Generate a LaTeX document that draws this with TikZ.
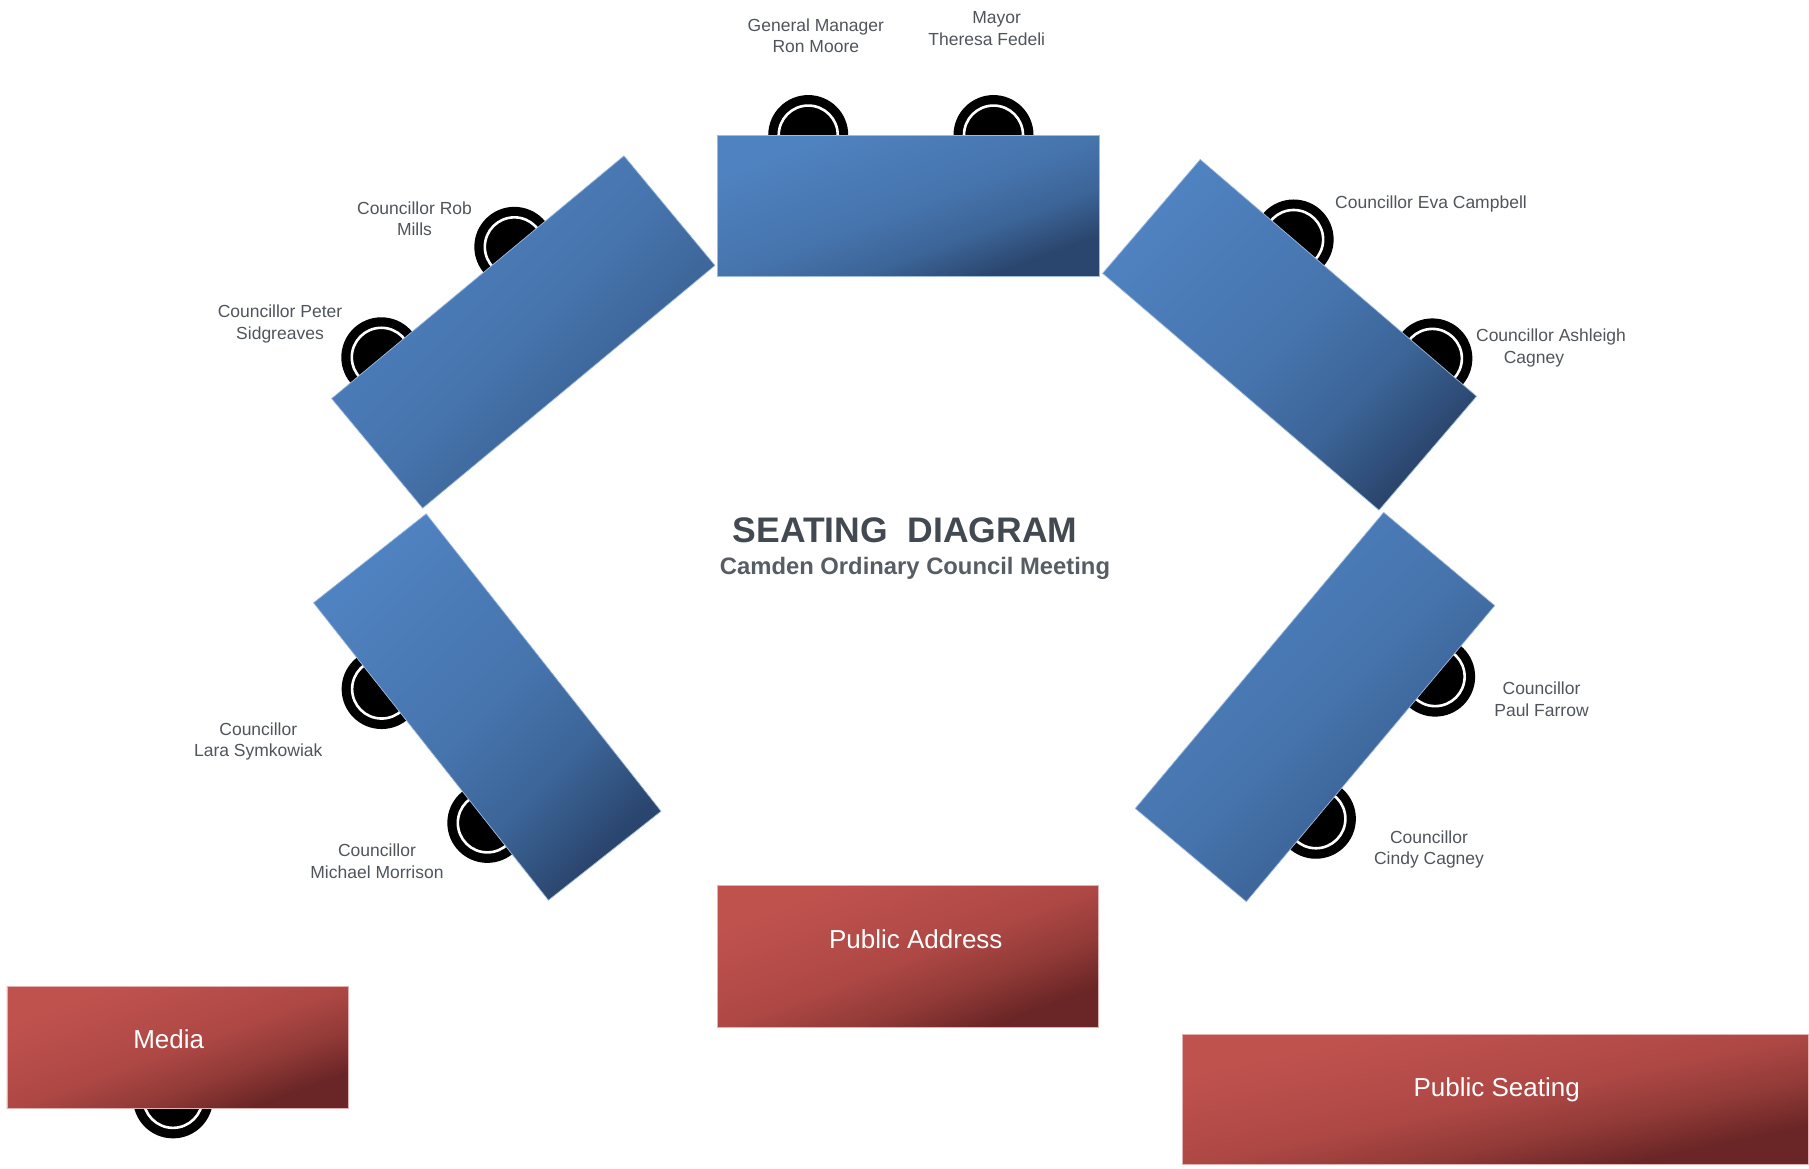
\documentclass[tikz,border=0pt]{standalone}
\usepackage{fontspec}
\setmainfont{Liberation Sans}
\usetikzlibrary{calc}

\definecolor{bluelight}{HTML}{4F82C0}
\definecolor{bluemid}{HTML}{4674AD}
\definecolor{bluedeep}{HTML}{3C6598}
\definecolor{bluedark}{HTML}{2B466E}
\definecolor{redlight}{HTML}{C0524E}
\definecolor{redmid}{HTML}{AE4845}
\definecolor{reddeep}{HTML}{913A37}
\definecolor{reddark}{HTML}{6A2626}
\definecolor{labelgray}{HTML}{50555C}
\definecolor{titlegray}{HTML}{434951}
\definecolor{subgray}{HTML}{575D65}

\pgfdeclareverticalshading{blueshade}{100bp}{color(0bp)=(bluedark); color(25bp)=(bluedark); color(37bp)=(bluedeep); color(50bp)=(bluemid); color(75bp)=(bluelight); color(100bp)=(bluelight)}
\pgfdeclareverticalshading{redshade}{100bp}{color(0bp)=(reddark); color(25bp)=(reddark); color(37bp)=(reddeep); color(50bp)=(redmid); color(75bp)=(redlight); color(100bp)=(redlight)}

\pgfdeclarelayer{bg}
\pgfdeclarelayer{chairs}
\pgfsetlayers{bg,chairs,main}

\newcommand{\seatchair}[1]{%
  \fill[black] (#1) circle (40pt);
  \draw[white, line width=2.6pt] (#1) circle (29.5pt);}

% gradient scaled to the box: light top-left corner, dark bottom-right corner
% #1,#2 centre; #3,#4 half width, half height; #5 shading
\newcommand{\scaledshade}[5]{%
  \begin{scope}[transform canvas={shift={(#1,#2)}, xscale=#3, yscale=#4}]
    \shade[shading=#5, shading angle=45] (-1pt,-1pt) rectangle (1pt,1pt);
  \end{scope}}

\begin{document}
\begin{tikzpicture}[x=1pt,y=-1pt,
  tablebox/.style={rectangle, inner sep=0pt, outer sep=0pt, shade, shading=blueshade, shading angle=45, draw=bluelight!55!white, line width=0.7pt},
  tableframe/.style={rectangle, inner sep=0pt, outer sep=0pt, draw=bluelight!55!white, line width=0.7pt},
  redframe/.style={rectangle, inner sep=0pt, outer sep=0pt, draw=redlight!45!white, line width=0.8pt},
  lbl/.style={font=\fontsize{17.5}{21.5}\selectfont, text=labelgray, align=center, inner sep=0pt},
  boxtext/.style={font=\fontsize{26}{30}\selectfont, text=white, inner sep=0pt}]

\begin{pgfonlayer}{bg}
\fill[white] (0,0) rectangle (1809,1168);
\end{pgfonlayer}
\useasboundingbox (0,0) rectangle (1809,1168);

% tables
\scaledshade{908.7}{205.8}{191}{70.75}{blueshade}
\node[tableframe, minimum width=382pt, minimum height=141.5pt] (tt) at (908.7,205.8) {};
\node[tablebox, minimum width=380pt, minimum height=142.5pt, rotate=39.7] (tul) at (523.3,332) {};
\node[tablebox, minimum width=364pt, minimum height=150pt, rotate=-40.6] (tur) at (1289.6,334.8) {};
\node[tablebox, minimum width=379pt, minimum height=143.6pt, rotate=-51.7] (tll) at (487.3,707) {};
\node[tablebox, minimum width=386.5pt, minimum height=145pt, rotate=50] (tlr) at (1315,707) {};

% red boxes
\scaledshade{177.5}{1047.2}{170.5}{61.15}{redshade}
\node[redframe, minimum width=341pt, minimum height=122.3pt] (media) at (177.5,1047.2) {};
\scaledshade{907.8}{956.7}{190.5}{71}{redshade}
\node[redframe, minimum width=381pt, minimum height=142pt] (pa) at (907.8,956.7) {};
\scaledshade{1495.5}{1099}{312.8}{65}{redshade}
\node[redframe, minimum width=625.6pt, minimum height=130pt] (ps) at (1495.5,1099) {};

% chair positions
\coordinate (cgm) at ($(tt.north west)!0.237!(tt.north east)$);
\coordinate (cmayor) at ($(tt.north west)!0.722!(tt.north east)$);
\coordinate (cpeter) at ($(tul.north west)!0.17!(tul.north east)$);
\coordinate (crob) at ($(tul.north west)!0.625!(tul.north east)$);
\coordinate (ceva) at ($(tur.north west)!0.338!(tur.north east)$);
\coordinate (cash) at ($(tur.north west)!0.84!(tur.north east)$);
\coordinate (clara) at ($(tll.south west)!0.29!(tll.south east)$);
\coordinate (cmich) at ($(tll.south west)!0.74!(tll.south east)$);
\coordinate (ccindy) at ($(tlr.south west)!0.28!(tlr.south east)$);
\coordinate (cpaul) at ($(tlr.south west)!0.76!(tlr.south east)$);
\coordinate (cmedia) at ($(media.south)+(-4.5,-10)$);

\begin{pgfonlayer}{chairs}
\foreach \c in {cgm,cmayor,cpeter,crob,ceva,cash,clara,cmich,ccindy,cpaul,cmedia}{\seatchair{\c}}
\end{pgfonlayer}

% labels
\node[lbl] (lgm) at (815.8,35.8) {General Manager\\Ron Moore};
\node[lbl] (lmayor) at (986.7,28.8) {\hspace*{20pt}Mayor\\Theresa Fedeli};
\node[lbl] (lrob) at (414.5,218.5) {Councillor Rob\\Mills};
\node[lbl] (lpeter) at (280,324) {Councillor Peter\\Sidgreaves};
\node[lbl, anchor=west] (leva) at (1335,204) {Councillor Eva Campbell};
\node[lbl] (lash) at (1551,348) {Councillor Ashleigh\\\hspace*{-34pt}Cagney};
\node[lbl] (lpaul) at (1541.5,699) {Councillor\\Paul Farrow};
\node[lbl] (lcindy) at (1429,849.5) {Councillor\\Cindy Cagney};
\node[lbl] (llara) at (258.3,741.5) {Councillor\\Lara Symkowiak};
\node[lbl] (lmich) at (377,861) {Councillor\\Michael Morrison};

% title
\node[font=\fontsize{35.5}{40}\selectfont\bfseries, text=titlegray, inner sep=0pt, anchor=base] (title) at (905,542) {SEATING\ \ DIAGRAM};
\node[font=\fontsize{23.8}{28}\selectfont\bfseries, text=subgray, inner sep=0pt, anchor=base] (subtitle) at (915,574.5) {Camden Ordinary Council Meeting};

% box texts
\node[boxtext] (tmedia) at (168.7,1039) {Media};
\node[boxtext] (tpa) at (915.8,939.3) {Public Address};
\node[boxtext] (tps) at (1496.7,1090) {Public Seating};
\end{tikzpicture}
\end{document}
